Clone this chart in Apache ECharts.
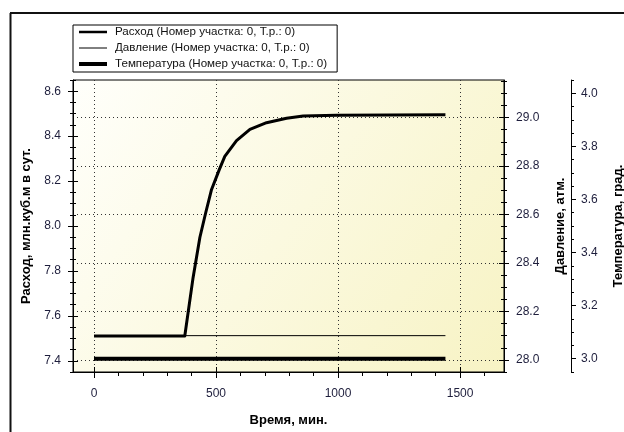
<!DOCTYPE html>
<html>
<head>
<meta charset="utf-8">
<script src="https://cdn.jsdelivr.net/npm/echarts@6/dist/echarts.min.js"></script>
<style>
html, body { margin: 0; padding: 0; background: #fff; }
#chart { width: 624px; height: 432px; }
</style>
</head>
<body>
<div id="chart"></div>
<script>
// данные (время, мин.)
var rateTime = [0, 372, 406, 434, 458, 481, 513, 536, 584, 639, 707, 789, 857, 994, 1440];
var rateValues = [7.51, 7.51, 7.77, 7.95, 8.06, 8.16, 8.25, 8.31, 8.38, 8.43, 8.46, 8.48, 8.49, 8.493, 8.495];
var flatTime = [0, 1440];
var pressureValues = [28.1, 28.1];
var tempValues = [3.0, 3.0];

// подписи осей
var xTicks = [0, 500, 1000, 1500];
var rateTicks = [7.4, 7.6, 7.8, 8.0, 8.2, 8.4, 8.6];
var pressureTicks = [28.0, 28.2, 28.4, 28.6, 28.8, 29.0];
var tempTicks = [3.0, 3.2, 3.4, 3.6, 3.8, 4.0];

var legendNames = [
    'Расход (Номер участка: 0, Т.р.: 0)',
    'Давление (Номер участка: 0, Т.р.: 0)',
    'Температура (Номер участка: 0, Т.р.: 0)'
];
var lineWidths = [2.5, 1, 4];

function zip(xs, ys) {
    return xs.map(function (x, i) { return [x, ys[i]]; });
}

// мелкие деления между основными
function minorTicks(major, parts, min, max) {
    var step = (major[1] - major[0]) / parts;
    var res = [];
    for (var i = -parts; i <= (major.length - 1) * parts + parts; i++) {
        var v = +(major[0] + i * step).toFixed(4);
        if (v >= min - 1e-6 && v <= max + 1e-6) res.push(v);
    }
    return res;
}

var FONT = '"Liberation Sans", Arial, sans-serif';
var labelColor = '#1e1e3c';

// ось-слой только с делениями
function tickLayer(pos, offset, min, max, values, len, inside) {
    return {
        type: 'value',
        position: pos,
        offset: offset,
        min: min,
        max: max,
        axisLine: { show: false, onZero: false },
        axisLabel: { show: false },
        splitLine: { show: false },
        axisTick: {
            show: true,
            customValues: values,
            length: len,
            inside: inside,
            lineStyle: { color: '#000', width: 1 }
        }
    };
}

var X_MIN = -86, X_MAX = 1680;
var R_MIN = 7.35, R_MAX = 8.65;
var P_MIN = 27.95, P_MAX = 29.155;
var T_MIN = 2.95, T_MAX = 4.05;

var chart = echarts.init(document.getElementById('chart'));

var dotted = { color: '#333', width: 1, type: [1, 3] };
var fmt1 = function (v) { return v.toFixed(1); };

var option = {
    animation: false,
    backgroundColor: '#fff',
    textStyle: { fontFamily: FONT },
    graphic: [
        { type: 'line', shape: { x1: 10, y1: 13, x2: 624, y2: 13 }, style: { stroke: '#111', lineWidth: 2 } },
        { type: 'line', shape: { x1: 10.5, y1: 13, x2: 10.5, y2: 432 }, style: { stroke: '#111', lineWidth: 2 } }
    ],
    legend: {
        orient: 'vertical',
        left: 73,
        top: 25,
        padding: [1, 10, 2, 4],
        itemGap: 4,
        itemWidth: 28,
        itemHeight: 12,
        backgroundColor: '#fff',
        borderColor: '#000',
        borderWidth: 1,
        itemStyle: { opacity: 0 },
        textStyle: { fontSize: 11.6, color: '#111', fontFamily: FONT, padding: [0, 0, 0, 3] },
        data: legendNames.map(function (n, i) {
            return { name: n, lineStyle: { width: lineWidths[i], color: '#000' } };
        })
    },
    grid: {
        left: 73,
        top: 80,
        width: 431,
        height: 292,
        outerBoundsMode: 'none',
        containLabel: false,
        show: true,
        borderColor: '#000',
        borderWidth: 1,
        backgroundColor: new echarts.graphic.LinearGradient(0, 0, 1, 1, [
            { offset: 0, color: '#fffffb' },
            { offset: 1, color: '#f7f3c4' }
        ])
    },
    xAxis: [
        {
            type: 'value',
            min: X_MIN,
            max: X_MAX,
            name: 'Время, мин.',
            nameLocation: 'middle',
            nameGap: 42,
            nameTextStyle: { fontSize: 13, fontWeight: 'bold', color: '#000' },
            axisLine: { show: true, onZero: false, lineStyle: { color: '#000', width: 1 } },
            axisTick: { show: true, customValues: xTicks, length: 6, lineStyle: { color: '#000' } },
            axisLabel: {
                customValues: xTicks, margin: 16, fontSize: 12, color: labelColor,
                formatter: function (v) { return String(v); }
            },
            splitLine: { show: true, lineStyle: dotted }
        },
        tickLayer('bottom', 0, X_MIN, X_MAX, xTicks, 5, true),
        tickLayer('bottom', 0, X_MIN, X_MAX, minorTicks(xTicks, 5, 0, X_MAX), 4, false)
    ],
    yAxis: [
        {
            type: 'value',
            position: 'left',
            min: R_MIN,
            max: R_MAX,
            name: 'Расход, млн.куб.м в сут.',
            nameLocation: 'middle',
            nameGap: 39,
            nameTextStyle: { fontSize: 13, fontWeight: 'bold', color: '#000' },
            axisLine: { show: true, onZero: false, lineStyle: { color: '#000' } },
            axisTick: { show: true, customValues: rateTicks, length: 5, lineStyle: { color: '#000' } },
            axisLabel: { customValues: rateTicks, margin: 12, fontSize: 12, color: labelColor, formatter: fmt1 },
            splitLine: { show: false }
        },
        tickLayer('left', 0, R_MIN, R_MAX, rateTicks, 5, true),
        tickLayer('left', 0, R_MIN, R_MAX, minorTicks(rateTicks, 4, R_MIN, R_MAX), 3, false),
        tickLayer('left', 0, R_MIN, R_MAX, minorTicks(rateTicks, 4, R_MIN, R_MAX), 3, true),
        {
            type: 'value',
            position: 'right',
            offset: 0,
            min: P_MIN,
            max: P_MAX,
            name: 'Давление, атм.',
            nameLocation: 'middle',
            nameGap: 50,
            nameTextStyle: { fontSize: 13, fontWeight: 'bold', color: '#000' },
            axisLine: { show: true, onZero: false, lineStyle: { color: '#000' } },
            axisTick: { show: true, customValues: pressureTicks, length: 5, lineStyle: { color: '#000' } },
            axisLabel: { customValues: pressureTicks, margin: 12, fontSize: 12, color: labelColor, formatter: fmt1 },
            splitLine: { show: true, lineStyle: dotted }
        },
        tickLayer('right', 0, P_MIN, P_MAX, pressureTicks, 5, true),
        tickLayer('right', 0, P_MIN, P_MAX, minorTicks(pressureTicks, 4, P_MIN, P_MAX), 3, false),
        tickLayer('right', 0, P_MIN, P_MAX, minorTicks(pressureTicks, 4, P_MIN, P_MAX), 3, true),
        {
            type: 'value',
            position: 'right',
            offset: 67,
            min: T_MIN,
            max: T_MAX,
            name: 'Температура, град.',
            nameLocation: 'middle',
            nameGap: 41,
            nameTextStyle: { fontSize: 13, fontWeight: 'bold', color: '#000' },
            axisLine: { show: true, onZero: false, lineStyle: { color: '#000' } },
            axisTick: { show: true, customValues: tempTicks, length: 5, lineStyle: { color: '#000' } },
            axisLabel: { customValues: tempTicks, margin: 10, fontSize: 12, color: labelColor, formatter: fmt1 },
            splitLine: { show: false }
        },
        tickLayer('right', 67, T_MIN, T_MAX, minorTicks(tempTicks, 4, T_MIN, T_MAX), 3, false)
    ],
    series: [
        {
            name: legendNames[0],
            type: 'line',
            yAxisIndex: 0,
            symbol: 'none',
            smooth: false,
            z: 4,
            lineStyle: { color: '#000', width: 3, join: 'round' },
            itemStyle: { color: '#000' },
            data: zip(rateTime, rateValues)
        },
        {
            name: legendNames[1],
            type: 'line',
            yAxisIndex: 4,
            symbol: 'none',
            z: 3,
            lineStyle: { color: '#000', width: 1 },
            itemStyle: { color: '#000' },
            data: zip(flatTime, pressureValues)
        },
        {
            name: legendNames[2],
            type: 'line',
            yAxisIndex: 8,
            symbol: 'none',
            z: 3,
            lineStyle: { color: '#000', width: 4 },
            itemStyle: { color: '#000' },
            data: zip(flatTime, tempValues)
        }
    ]
};

chart.setOption(option);
</script>
</body>
</html>
